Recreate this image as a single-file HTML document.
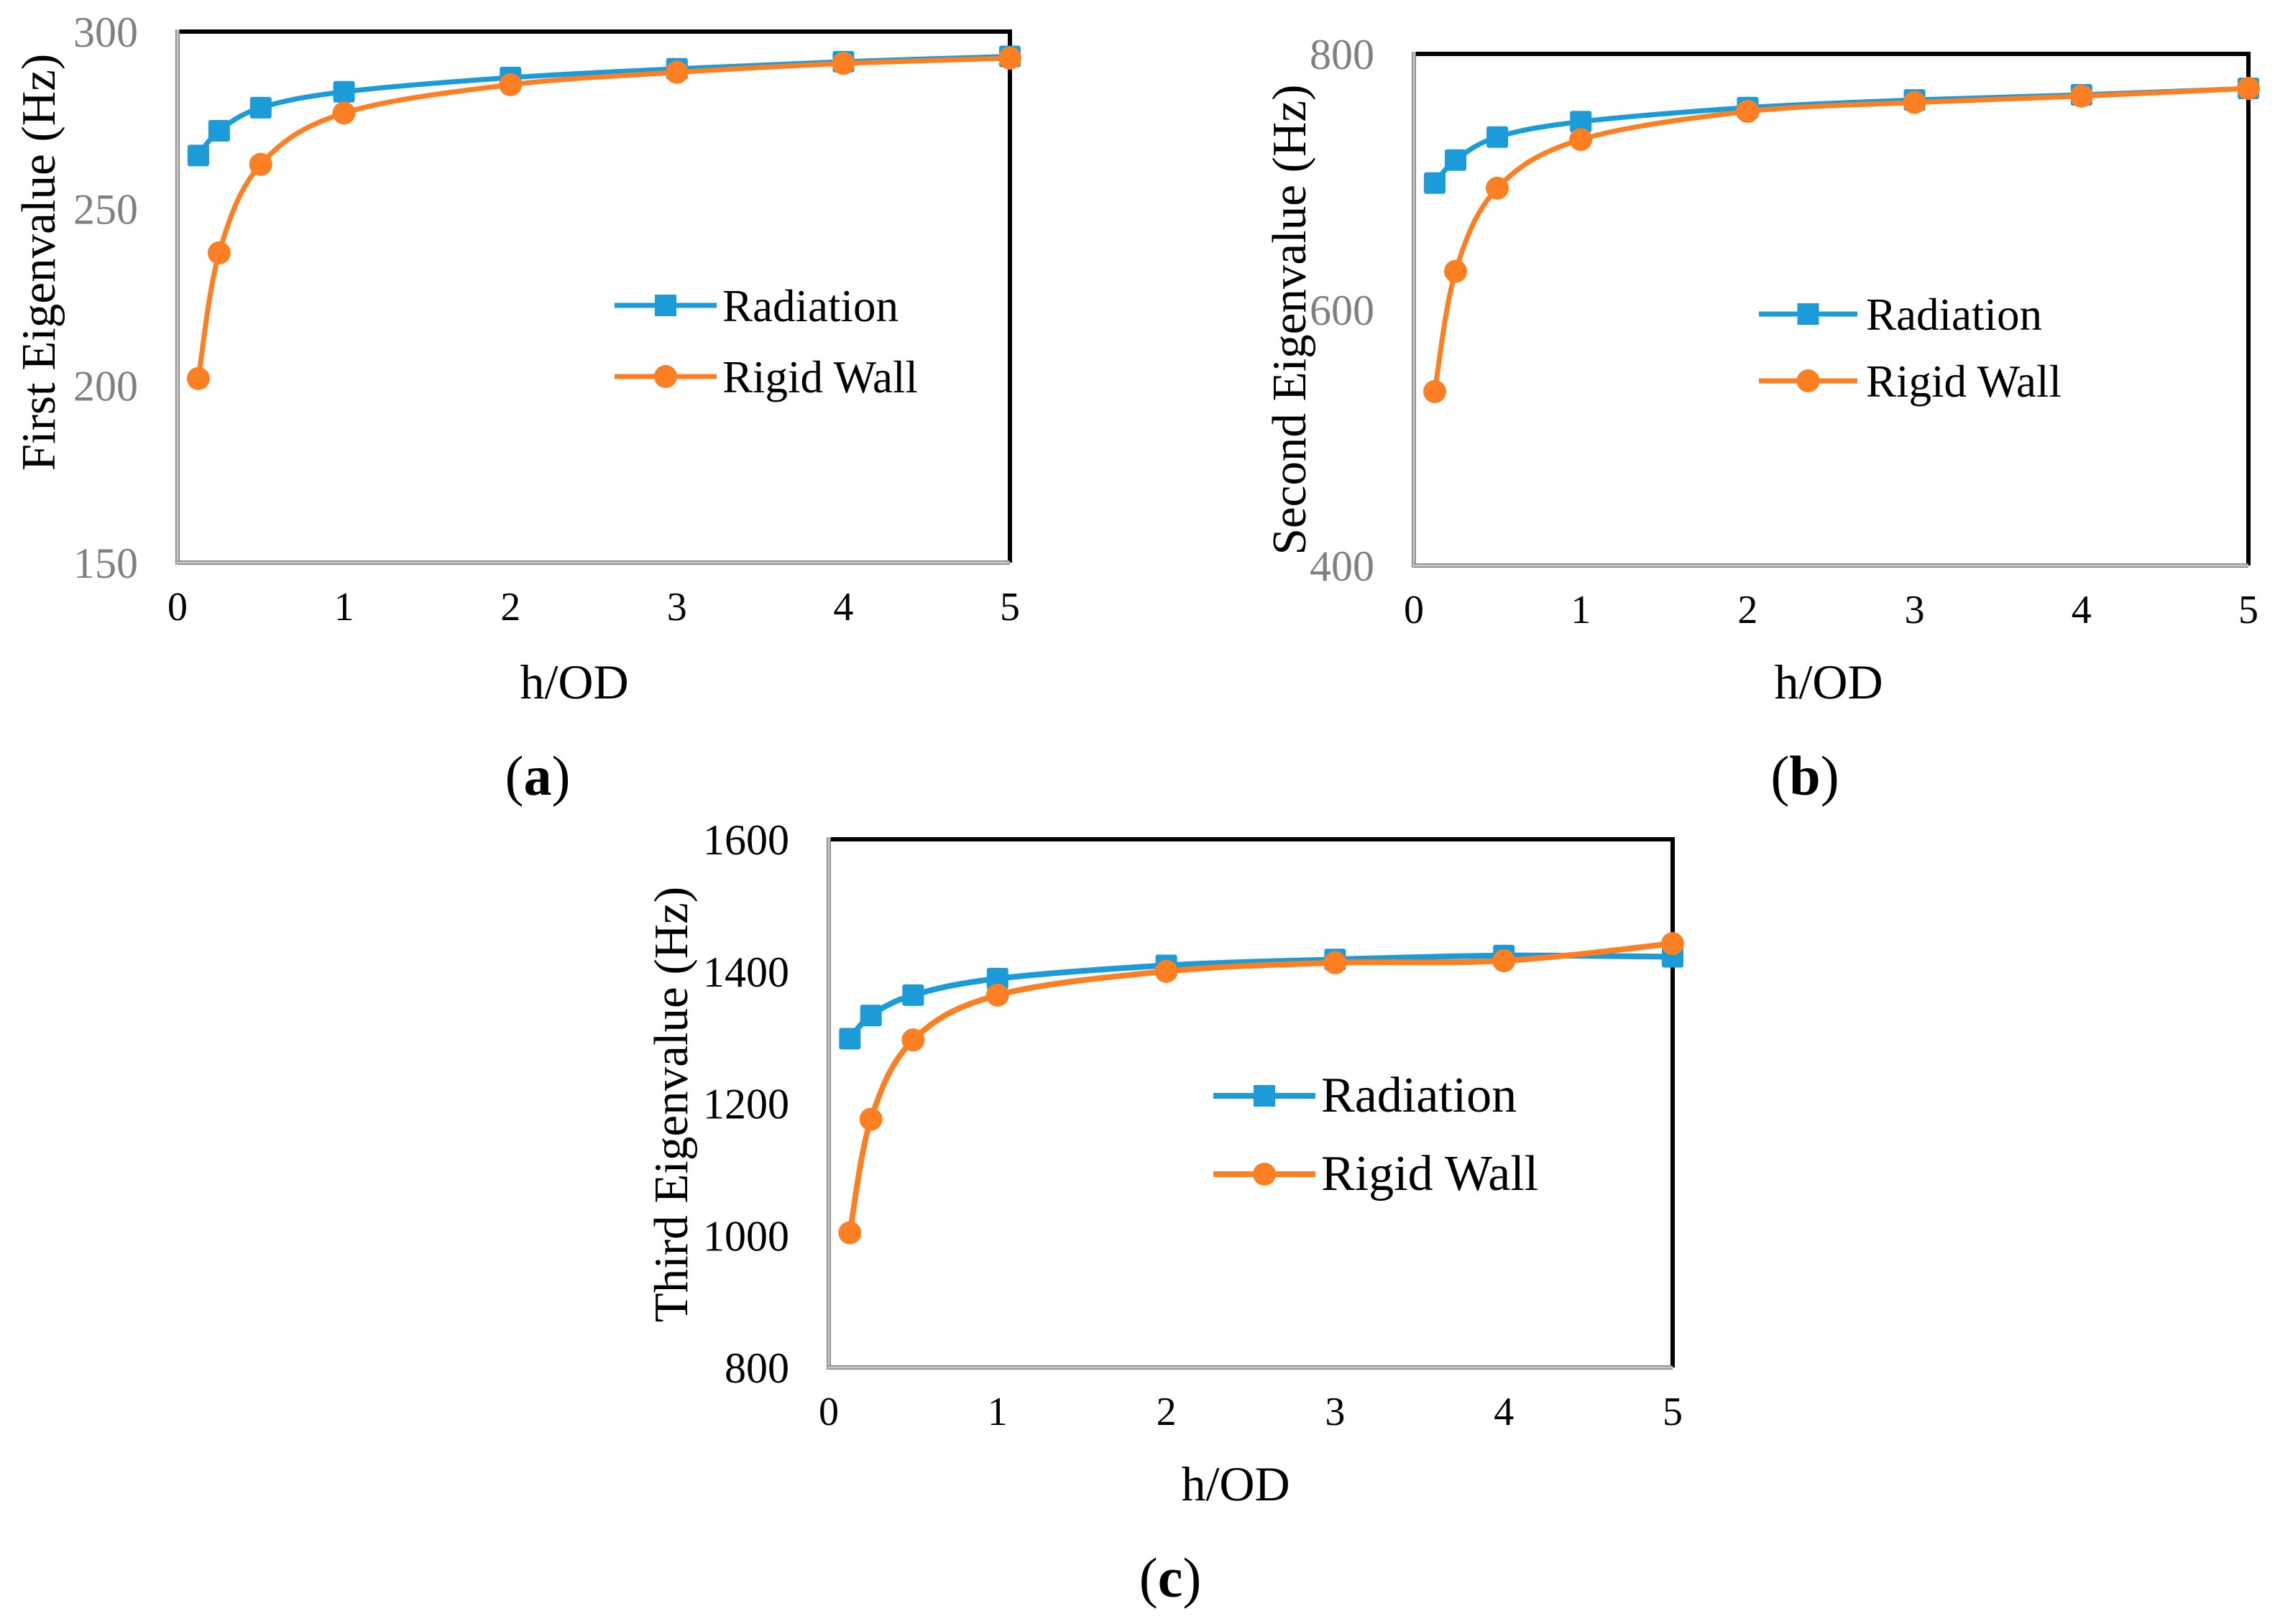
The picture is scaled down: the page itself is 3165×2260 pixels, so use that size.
<!DOCTYPE html>
<html><head><meta charset="utf-8"><style>
html,body{margin:0;padding:0;background:#fff;}
svg{display:block;font-family:"Liberation Serif",serif;}
</style></head><body>
<svg id="fig" width="3165" height="2260" viewBox="0 0 3165 2260" xmlns="http://www.w3.org/2000/svg"></svg>
<script>
const xCats = [0.125, 0.25, 0.5, 1, 2, 3, 4, 5];
const xTicks = [0, 1, 2, 3, 4, 5];
const radA = [265, 272, 278.5, 283, 287, 289.5, 291.5, 293];
const rigA = [202, 237.5, 262.5, 277, 285, 288.5, 291, 292.5];
const ticksA = [150, 200, 250, 300];
const radB = [699, 717, 735, 747, 758, 764, 768, 773];
const rigB = [536, 630, 695, 733, 755, 762, 767, 773];
const ticksB = [400, 600, 800];
const radC = [1298, 1333, 1364, 1389, 1409, 1418, 1424, 1422];
const rigC = [1004, 1176, 1296, 1364, 1400, 1413, 1416, 1442];
const ticksC = [800, 1000, 1200, 1400, 1600];

const NS = 'http://www.w3.org/2000/svg';
const svg = document.getElementById('fig');
function mk(tag, attrs, parent){
  const e = document.createElementNS(NS, tag);
  for (const k in attrs) e.setAttribute(k, attrs[k]);
  (parent||svg).appendChild(e);
  return e;
}
function smooth(pts){
  let d = 'M' + pts[0][0] + ',' + pts[0][1];
  const t = 1/6;
  for (let i = 0; i < pts.length-1; i++){
    const p0 = pts[Math.max(0,i-1)], p1 = pts[i], p2 = pts[i+1], p3 = pts[Math.min(pts.length-1,i+2)];
    const c1x = p1[0] + (p2[0]-p0[0])*t, c1y = p1[1] + (p2[1]-p0[1])*t;
    const c2x = p2[0] - (p3[0]-p1[0])*t, c2y = p2[1] - (p3[1]-p1[1])*t;
    d += ' C' + c1x + ',' + c1y + ' ' + c2x + ',' + c2y + ' ' + p2[0] + ',' + p2[1];
  }
  return d;
}
const BLUE = '#1b9bd7', ORANGE = '#fd7f23';

function chart(cfg){
  const g = mk('g', {});
  
  
  const L = cfg.left, R = cfg.right, T = cfg.top, B = cfg.bottom;
  const ymin = cfg.ticks[0], ymax = cfg.ticks[cfg.ticks.length-1];
  const xs = v => L + (v - 0) / 5 * (R - L);
  const ys = v => B - (v - ymin) / (ymax - ymin) * (B - T);
  const top = mk('line', {x1:L, y1:T, x2:R+3, y2:T, stroke:'#000', 'stroke-width':6}, g);
  
  
  const right = mk('line', {x1:R, y1:T, x2:R, y2:B, stroke:'#000', 'stroke-width':6}, g);
  
  
  const yax = mk('line', {x1:L, y1:T-3, x2:L, y2:B+3, stroke:'#808080', 'stroke-width':6}, g);
  
  
  mk('line', {x1:L, y1:T-3, x2:L, y2:B+3, stroke:'#c8c8c8', 'stroke-width':3}, g);
  const xax = mk('line', {x1:L, y1:B, x2:R, y2:B, stroke:'#808080', 'stroke-width':6}, g);
  
  
  mk('line', {x1:L, y1:B, x2:R, y2:B, stroke:'#c8c8c8', 'stroke-width':3}, g);
  cfg.ticks.forEach(v => {
    const t = mk('text', {x:L-55, y:ys(v)+21, 'text-anchor':'end', 'font-size':cfg.yfs, fill:cfg.ycol}, g);
    
    
    t.textContent = v;
  });
  xTicks.forEach(v => {
    const t = mk('text', {x:xs(v), y:B+80, 'text-anchor':'middle', 'font-size':56, fill:'#000'}, g);
    
    
    t.textContent = v;
  });
  [[cfg.rad, BLUE, 'sq', 'radiation'], [cfg.rig, ORANGE, 'ci', 'rigid-wall']].forEach(s => {
    const pts = xCats.map((x,i) => [xs(x), ys(s[0][i])]);
    const p = mk('path', {d:smooth(pts), fill:'none', stroke:s[1], 'stroke-width':cfg.lw}, g);
    
    
    pts.forEach(pt => {
      let m;
      if (s[2] === 'sq') m = mk('rect', {x:pt[0]-15, y:pt[1]-15, width:30, height:30, rx:3, fill:s[1]}, g);
      else m = mk('circle', {cx:pt[0], cy:pt[1], r:16, fill:s[1]}, g);
      
      
    });
  });
  const lg = cfg.leg;
  [[lg.y1, BLUE, 'sq', 'Radiation'], [lg.y2, ORANGE, 'ci', 'Rigid Wall']].forEach(e => {
    const eg = mk('g', {}, g);
    
    
    mk('line', {x1:lg.x1, y1:e[0], x2:lg.x2, y2:e[0], stroke:e[1], 'stroke-width':cfg.lw}, eg);
    const cx = (lg.x1+lg.x2)/2;
    if (e[2]==='sq') mk('rect', {x:cx-15, y:e[0]-15, width:30, height:30, fill:e[1]}, eg);
    else mk('circle', {cx:cx, cy:e[0], r:16, fill:e[1]}, eg);
    const t = mk('text', {x:lg.tx, y:e[0]+22, 'font-size':lg.fs, fill:'#000'}, eg);
    t.textContent = e[3];
  });
  const yt = mk('text', {x:0, y:0, 'text-anchor':'middle', 'font-size':67, fill:'#000', transform:'translate(' + cfg.ytx + ',' + cfg.yty + ') rotate(-90)'}, g);
  
  
  yt.textContent = cfg.ytitle;
  const xt = mk('text', {x:cfg.xtx, y:cfg.xty, 'text-anchor':'middle', 'font-size':68, fill:'#000'}, g);
  
  
  xt.textContent = 'h/OD';
  const pl = mk('text', {x:cfg.plx, y:cfg.ply, 'text-anchor':'middle', 'font-size':78, fill:'#000'}, g);
  
  
  pl.innerHTML = '(<tspan font-weight="bold">' + cfg.label + '</tspan>)';
}

chart({name:'chart-a', left:247, right:1405, top:44, bottom:783, ticks:ticksA, rad:radA, rig:rigA,
  yfs:60, ycol:'#808080', lw:7,
  leg:{x1:855, x2:997, y1:425, y2:524, tx:1005, fs:63},
  ytitle:'First Eigenvalue (Hz)', ytx:76, yty:365, xtx:799, xty:972, plx:748, ply:1106, label:'a'});
chart({name:'chart-b', left:1967, right:3128, top:75, bottom:787, ticks:ticksB, rad:radB, rig:rigB,
  yfs:60, ycol:'#808080', lw:7,
  leg:{x1:2447, x2:2584, y1:437, y2:530, tx:2596, fs:63},
  ytitle:'Second Eigenvalue (Hz)', ytx:1816, yty:445, xtx:2544, xty:972, plx:2511, ply:1106, label:'b'});
chart({name:'chart-c', left:1153, right:2327, top:1168, bottom:1903, ticks:ticksC, rad:radC, rig:rigC,
  yfs:60, ycol:'#000', lw:8,
  leg:{x1:1688, x2:1830, y1:1525, y2:1634, tx:1838, fs:70},
  ytitle:'Third Eigenvalue (Hz)', ytx:956, yty:1537, xtx:1719, xty:2088, plx:1628, ply:2222, label:'c'});
</script>
</body></html>
